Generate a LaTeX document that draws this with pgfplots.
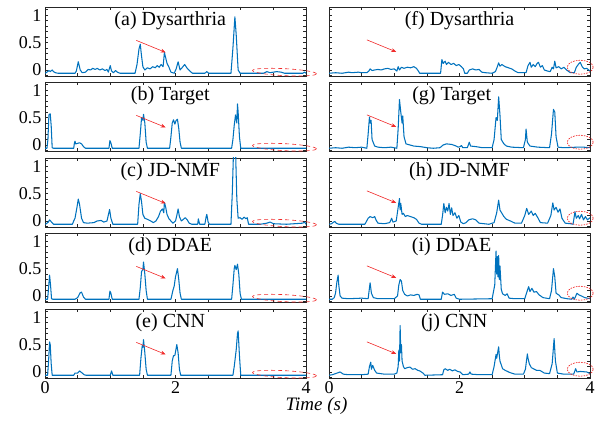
\documentclass[border=0pt]{standalone}
\usepackage{fontspec}
\setmainfont{Liberation Serif}
\usepackage{pgfplots}
\pgfplotsset{compat=1.18}
\usetikzlibrary{arrows.meta}
\definecolor{mblue}{RGB}{0,114,189}
\definecolor{axgray}{RGB}{38,38,38}
\definecolor{ared}{RGB}{240,40,40}
\pgfplotsset{panel/.style={
  at={#1}, anchor=north west, scale only axis, width=261pt, height=69pt,
  xmin=0, xmax=4, ymin=-0.11, ymax=1.15,
  axis line style={axgray, line width=0.8pt},
  tick style={axgray, line width=0.6pt},
  tick align=inside,
  xtick={0,2,4}, minor xtick={0.5,1,1.5,2.5,3,3.5},
  ytick={0,0.5,1}, minor ytick={-0.1,0.1,0.2,0.3,0.4,0.6,0.7,0.8,0.9,1.1},
  major tick length=3pt, minor tick length=3pt,
  xticklabels={}, yticklabels={},
  tick label style={font=\fontsize{18}{18}\selectfont},
  /pgf/number format/assume math mode=true,
  clip mode=individual,
},
leftcol/.style={yticklabels={0,0.5,1}},
bottomrow/.style={xticklabels={0,2,4}},
sig/.style={draw=mblue, line width=1.05pt, mark=none, line join=round},
}
\newcommand{\ttl}[2]{\node[font=\fontsize{20}{20}\selectfont, anchor=center] at (rel axis cs:#1,0.805) {#2};}
\newcommand{\larr}{\draw[ared, line width=0.6pt, -{Stealth[length=5pt,width=4pt]}] (axis cs:1.4,0.54) -- (axis cs:1.85,0.32);
  \draw[ared, line width=0.6pt, dash pattern=on 4pt off 3pt, rotate around={-3:(axis cs:3.67,-0.04)}] (axis cs:3.67,-0.04) ellipse [x radius=32pt, y radius=3.5pt];}
\newcommand{\rarr}{\draw[ared, line width=0.6pt, -{Stealth[length=5pt,width=4pt]}] (axis cs:0.58,0.55) -- (axis cs:1.03,0.33);
  \draw[ared, line width=0.7pt, dash pattern=on 1.5pt off 1.2pt] (axis cs:3.85,0.05) ellipse [x radius=13pt, y radius=7pt];}
\begin{document}
\begin{tikzpicture}
\useasboundingbox (0,0) rectangle (602pt,-422pt);
% (a)
\begin{axis}[panel={(45pt,-7pt)}, leftcol]
\addplot[sig] coordinates {(0,-0.06) (0.03,-0.04) (0.06,-0.01) (0.08,-0.03) (0.11,0.0) (0.13,-0.03) (0.16,-0.05) (0.2,-0.06) (0.46,-0.06) (0.48,-0.02) (0.51,0.15) (0.54,0.0) (0.57,-0.05) (0.62,-0.04) (0.66,0.01) (0.7,0.0) (0.73,0.03) (0.77,0.01) (0.8,0.03) (0.84,0.0) (0.88,0.02) (0.92,-0.01) (0.95,0.01) (0.97,-0.04) (1.0,0.08) (1.02,-0.02) (1.05,-0.05) (1.08,-0.01) (1.11,-0.04) (1.15,-0.06) (1.38,-0.06) (1.41,0.1) (1.44,0.38) (1.46,0.47) (1.48,0.25) (1.5,0.06) (1.53,0.0) (1.57,0.04) (1.61,0.02) (1.65,0.06) (1.69,0.04) (1.72,0.08) (1.75,0.05) (1.78,0.1) (1.81,0.06) (1.83,0.32) (1.85,0.22) (1.87,0.12) (1.9,0.05) (1.93,-0.04) (1.98,-0.06) (2.01,0.02) (2.04,0.15) (2.07,0.0) (2.1,0.04) (2.14,0.1) (2.18,0.03) (2.22,-0.02) (2.26,-0.06) (2.45,-0.06) (2.48,-0.03) (2.51,-0.06) (2.85,-0.06) (2.88,0.4) (2.91,0.97) (2.93,0.65) (2.96,0.0) (2.99,-0.06) (3.35,-0.06) (3.4,-0.03) (3.45,-0.05) (3.55,-0.03) (3.62,-0.04) (3.67,-0.06) (3.95,-0.06) (3.98,-0.04) (4,-0.06)};
\ttl{0.48}{(a) Dysarthria}
\larr
\end{axis}
% (b)
\begin{axis}[panel={(45pt,-82pt)}, leftcol]
\addplot[sig] coordinates {(0,-0.06) (0.03,-0.06) (0.045,0.1) (0.06,0.55) (0.08,0.57) (0.095,0.35) (0.11,-0.05) (0.13,-0.06) (0.44,-0.06) (0.45,0.03) (0.46,0.07) (0.47,0.02) (0.5,0.03) (0.53,0.04) (0.56,0.02) (0.59,-0.03) (0.62,-0.06) (0.98,-0.06) (0.995,0.08) (1.01,0.04) (1.03,-0.06) (1.44,-0.06) (1.46,0.2) (1.48,0.5) (1.5,0.45) (1.51,0.56) (1.53,0.4) (1.55,0.05) (1.57,-0.06) (1.91,-0.06) (1.93,0.15) (1.95,0.4) (1.97,0.46) (1.99,0.38) (2.01,0.45) (2.03,0.47) (2.05,0.3) (2.07,0.05) (2.09,-0.06) (2.86,-0.06) (2.88,0.1) (2.9,0.36) (2.92,0.55) (2.94,0.4) (2.95,0.75) (2.96,0.6) (2.98,0.15) (3.0,-0.06) (4,-0.06)};
\ttl{0.48}{(b) Target}
\larr
\end{axis}
% (c)
\begin{axis}[panel={(45pt,-158pt)}, leftcol]
\addplot[sig] coordinates {(0,-0.06) (0.02,-0.05) (0.05,-0.02) (0.07,0.02) (0.1,-0.02) (0.13,-0.06) (0.42,-0.06) (0.44,0.0) (0.46,0.05) (0.49,0.25) (0.51,0.4) (0.53,0.3) (0.56,0.05) (0.59,-0.03) (0.65,-0.04) (0.75,-0.03) (0.8,0.0) (0.86,0.01) (0.9,-0.02) (0.95,0.0) (0.99,0.21) (1.01,0.05) (1.04,-0.06) (1.42,-0.06) (1.44,0.3) (1.46,0.5) (1.48,0.35) (1.5,0.12) (1.53,0.05) (1.57,0.03) (1.62,0.0) (1.66,-0.03) (1.7,0.0) (1.74,0.08) (1.77,0.18) (1.8,0.22) (1.82,0.15) (1.83,0.34) (1.85,0.25) (1.87,0.12) (1.9,0.04) (1.93,0.0) (1.96,-0.04) (2.0,0.0) (2.02,0.1) (2.04,0.22) (2.06,0.08) (2.09,0.0) (2.12,0.03) (2.15,0.06) (2.18,0.02) (2.21,-0.04) (2.25,-0.06) (2.34,-0.06) (2.35,0.04) (2.37,-0.06) (2.45,-0.06) (2.47,0.08) (2.48,0.12) (2.5,-0.02) (2.52,-0.06) (2.85,-0.06) (2.87,0.5) (2.89,1.3) (2.92,1.3) (2.94,0.4) (2.96,0.05) (2.99,0.06) (3.02,0.03) (3.05,0.07) (3.08,0.04) (3.1,0.06) (3.12,-0.06) (3.3,-0.06) (3.4,-0.04) (3.45,-0.02) (3.5,-0.05) (3.7,-0.06) (3.95,-0.04) (3.98,-0.02) (4,-0.06)};
\ttl{0.48}{(c) JD-NMF}
\larr
\end{axis}
% (d)
\begin{axis}[panel={(45pt,-233pt)}, leftcol]
\addplot[sig] coordinates {(0,-0.06) (0.04,-0.06) (0.055,0.15) (0.07,0.38) (0.085,0.2) (0.1,-0.05) (0.12,-0.06) (0.46,-0.06) (0.5,-0.03) (0.54,0.06) (0.56,0.07) (0.59,-0.02) (0.62,-0.06) (0.98,-0.06) (0.995,0.09) (1.01,0.05) (1.03,-0.06) (1.44,-0.06) (1.46,0.15) (1.48,0.45) (1.5,0.48) (1.51,0.62) (1.53,0.4) (1.55,0.1) (1.57,-0.06) (1.93,-0.06) (1.96,0.1) (1.98,0.18) (2.0,0.35) (2.03,0.5) (2.05,0.3) (2.07,0.05) (2.09,-0.06) (2.86,-0.06) (2.88,0.2) (2.9,0.5) (2.91,0.56) (2.93,0.48) (2.95,0.58) (2.97,0.4) (2.99,0.05) (3.01,-0.06) (4,-0.06)};
\ttl{0.48}{(d) DDAE}
\larr
\end{axis}
% (e)
\begin{axis}[panel={(45pt,-309pt)}, leftcol, bottomrow]
\addplot[sig] coordinates {(0,-0.06) (0.04,-0.06) (0.055,0.2) (0.07,0.55) (0.08,0.5) (0.095,0.15) (0.11,-0.06) (0.44,-0.06) (0.46,-0.02) (0.5,-0.02) (0.53,0.02) (0.56,-0.01) (0.6,-0.05) (0.63,-0.06) (1.0,-0.06) (1.02,0.02) (1.04,-0.06) (1.45,-0.06) (1.47,0.25) (1.49,0.48) (1.5,0.45) (1.51,0.59) (1.53,0.35) (1.55,0.05) (1.57,-0.06) (1.93,-0.06) (1.95,0.2) (1.97,0.3) (1.99,0.3) (2.02,0.5) (2.04,0.35) (2.06,0.05) (2.08,-0.06) (2.88,-0.06) (2.9,0.1) (2.93,0.4) (2.95,0.7) (2.96,0.75) (2.98,0.3) (3.0,-0.06) (4,-0.06)};
\ttl{0.48}{(e) CNN}
\larr
\end{axis}
% (f)
\begin{axis}[panel={(329pt,-7pt)}]
\addplot[sig] coordinates {(0,-0.06) (0.1,-0.05) (0.2,-0.06) (0.3,-0.04) (0.35,-0.05) (0.45,-0.04) (0.5,-0.05) (0.58,-0.05) (0.61,-0.02) (0.63,0.02) (0.66,-0.01) (0.7,0.0) (0.75,0.01) (0.8,0.0) (0.85,0.02) (0.9,0.03) (0.95,0.01) (1.0,0.02) (1.04,-0.02) (1.06,0.06) (1.08,0.0) (1.11,0.05) (1.15,0.03) (1.2,0.05) (1.25,0.04) (1.3,0.06) (1.34,0.03) (1.37,-0.02) (1.39,-0.06) (1.71,-0.06) (1.73,0.19) (1.75,0.12) (1.78,0.16) (1.8,0.1) (1.83,0.14) (1.87,0.1) (1.91,0.12) (1.95,0.08) (1.99,0.1) (2.03,0.06) (2.06,0.02) (2.08,-0.06) (2.12,-0.06) (2.15,0.0) (2.2,0.02) (2.25,0.0) (2.3,0.01) (2.34,-0.04) (2.4,-0.05) (2.5,-0.06) (2.55,-0.03) (2.58,0.06) (2.6,0.13) (2.62,0.07) (2.65,0.1) (2.7,0.06) (2.75,0.04) (2.8,0.02) (2.85,-0.02) (2.9,-0.05) (3.02,-0.05) (3.05,0.08) (3.08,0.14) (3.1,0.05) (3.13,0.1) (3.16,0.06) (3.19,0.12) (3.21,0.14) (3.24,0.05) (3.27,0.08) (3.3,0.0) (3.35,-0.02) (3.39,-0.03) (3.42,0.05) (3.44,0.02) (3.46,0.16) (3.48,0.04) (3.52,0.06) (3.56,0.02) (3.6,0.05) (3.64,0.0) (3.7,-0.05) (3.76,-0.05) (3.79,0.05) (3.82,0.1) (3.85,0.14) (3.88,0.06) (3.91,0.02) (3.95,0.03) (4,-0.02)};
\ttl{0.50}{(f) Dysarthria}
\rarr
\end{axis}
% (g)
\begin{axis}[panel={(329pt,-82pt)}]
\addplot[sig] coordinates {(0,-0.06) (0.1,-0.05) (0.2,-0.06) (0.3,-0.04) (0.4,-0.05) (0.5,-0.04) (0.58,-0.06) (0.6,0.2) (0.62,0.51) (0.63,0.4) (0.645,0.45) (0.66,0.1) (0.7,-0.02) (0.75,-0.04) (0.85,-0.05) (0.95,-0.04) (1.04,-0.06) (1.06,0.3) (1.08,0.83) (1.1,0.6) (1.12,0.4) (1.13,0.53) (1.15,0.15) (1.18,0.02) (1.24,0.0) (1.3,-0.02) (1.4,-0.03) (1.5,-0.05) (1.6,-0.06) (1.7,-0.05) (1.75,0.0) (1.8,0.02) (1.88,0.01) (1.95,-0.02) (1.98,-0.04) (2.01,-0.03) (2.03,-0.01) (2.05,-0.05) (2.12,-0.05) (2.15,0.05) (2.17,-0.02) (2.25,-0.03) (2.35,-0.05) (2.5,-0.05) (2.53,0.1) (2.56,0.5) (2.58,0.45) (2.6,0.88) (2.62,0.55) (2.64,0.1) (2.68,0.02) (2.72,-0.02) (2.8,-0.04) (2.98,-0.05) (3.01,0.1) (3.02,0.29) (3.04,0.05) (3.08,-0.02) (3.2,-0.04) (3.38,-0.05) (3.41,0.2) (3.44,0.65) (3.46,0.6) (3.48,0.15) (3.51,-0.04) (3.6,-0.05) (3.8,-0.04) (3.9,-0.04) (4,-0.05)};
\ttl{0.47}{(g) Target}
\rarr
\end{axis}
% (h)
\begin{axis}[panel={(329pt,-158pt)}]
\addplot[sig] coordinates {(0,-0.06) (0.04,-0.05) (0.07,-0.02) (0.09,-0.01) (0.11,-0.04) (0.15,-0.06) (0.55,-0.06) (0.6,0.05) (0.63,0.08) (0.67,0.06) (0.7,0.08) (0.72,0.02) (0.75,-0.04) (0.85,-0.05) (0.93,-0.03) (0.96,0.05) (0.98,-0.02) (1.03,0.0) (1.06,0.25) (1.08,0.41) (1.09,0.2) (1.1,0.32) (1.12,0.12) (1.14,0.14) (1.17,0.08) (1.2,0.1) (1.25,0.08) (1.3,0.06) (1.34,0.03) (1.38,-0.04) (1.42,-0.06) (1.72,-0.06) (1.74,0.1) (1.76,0.32) (1.78,0.15) (1.8,0.25) (1.82,0.18) (1.84,0.32) (1.86,0.12) (1.88,0.24) (1.9,0.1) (1.93,0.15) (1.96,0.05) (1.99,0.1) (2.02,-0.02) (2.06,-0.05) (2.1,-0.03) (2.14,0.02) (2.2,0.04) (2.25,0.02) (2.3,-0.04) (2.45,-0.06) (2.53,-0.03) (2.57,0.15) (2.6,0.38) (2.62,0.2) (2.65,0.14) (2.68,0.08) (2.72,0.03) (2.78,0.0) (2.85,-0.04) (2.95,-0.04) (3.0,0.1) (3.03,0.23) (3.06,0.12) (3.1,0.18) (3.13,0.1) (3.16,0.14) (3.2,0.06) (3.24,-0.03) (3.35,-0.04) (3.4,0.1) (3.43,0.33) (3.45,0.2) (3.48,0.25) (3.51,0.16) (3.54,0.22) (3.57,0.05) (3.62,-0.04) (3.7,-0.05) (3.74,-0.06) (3.77,0.17) (3.79,0.05) (3.82,0.1) (3.84,0.04) (3.87,0.12) (3.9,0.02) (3.93,0.08) (3.96,0.02) (4,0.06)};
\ttl{0.50}{(h) JD-NMF}
\rarr
\end{axis}
% (i)
\begin{axis}[panel={(329pt,-233pt)}]
\addplot[sig] coordinates {(0,-0.06) (0.05,-0.06) (0.08,-0.03) (0.1,0.05) (0.12,0.25) (0.14,0.38) (0.15,0.2) (0.17,0.0) (0.2,-0.04) (0.3,-0.05) (0.5,-0.04) (0.6,-0.05) (0.615,0.1) (0.63,0.24) (0.65,0.05) (0.68,-0.03) (0.75,-0.05) (1.0,-0.05) (1.05,0.0) (1.07,0.2) (1.09,0.3) (1.11,0.27) (1.13,0.1) (1.16,0.03) (1.2,0.0) (1.25,0.02) (1.3,0.01) (1.35,0.03) (1.38,0.02) (1.4,-0.06) (1.72,-0.06) (1.74,0.07) (1.77,0.03) (1.82,0.04) (1.87,0.01) (1.92,0.03) (1.95,-0.04) (2.0,-0.06) (2.5,-0.05) (2.54,0.2) (2.56,0.82) (2.57,0.4) (2.58,0.72) (2.59,0.35) (2.6,0.74) (2.61,0.3) (2.62,0.55) (2.64,0.12) (2.66,0.04) (2.7,0.01) (2.73,0.04) (2.76,-0.04) (2.85,-0.05) (3.0,-0.05) (3.04,0.1) (3.06,0.17) (3.08,0.08) (3.11,0.14) (3.14,0.07) (3.18,0.08) (3.22,0.02) (3.28,-0.03) (3.38,-0.05) (3.41,0.1) (3.44,0.5) (3.46,0.35) (3.48,0.05) (3.52,0.02) (3.56,-0.03) (3.65,-0.05) (3.72,-0.06) (3.74,-0.02) (3.76,-0.06) (3.8,0.05) (3.83,0.02) (3.87,0.0) (3.92,-0.03) (4,-0.05)};
\ttl{0.47}{(i) DDAE}
\rarr
\end{axis}
% (j)
\begin{axis}[panel={(329pt,-309pt)}, bottomrow]
\addplot[sig] coordinates {(0,-0.06) (0.05,-0.05) (0.1,-0.03) (0.17,0.0) (0.22,-0.04) (0.3,-0.05) (0.5,-0.05) (0.6,-0.04) (0.62,0.1) (0.64,0.18) (0.65,0.05) (0.67,0.12) (0.7,0.03) (0.73,-0.02) (0.85,-0.04) (1.0,-0.04) (1.04,-0.02) (1.06,0.1) (1.07,0.4) (1.08,0.2) (1.09,0.85) (1.1,0.35) (1.11,0.5) (1.12,0.2) (1.14,0.1) (1.16,0.06) (1.2,0.08) (1.24,0.09) (1.28,0.05) (1.32,0.06) (1.36,0.03) (1.39,0.02) (1.44,-0.02) (1.47,-0.06) (1.74,-0.05) (1.76,0.04) (1.78,0.06) (1.82,0.03) (1.85,0.05) (1.89,0.02) (1.93,0.04) (1.97,0.01) (2.01,0.0) (2.05,-0.05) (2.14,-0.04) (2.16,0.0) (2.18,-0.04) (2.3,-0.05) (2.5,-0.05) (2.53,0.1) (2.56,0.32) (2.57,0.25) (2.6,0.46) (2.61,0.3) (2.62,0.2) (2.66,0.06) (2.7,0.03) (2.77,-0.01) (2.85,-0.04) (2.98,-0.04) (3.01,0.05) (3.04,0.33) (3.05,0.25) (3.07,0.15) (3.1,0.08) (3.13,0.06) (3.18,0.03) (3.23,0.03) (3.3,-0.02) (3.38,-0.03) (3.42,0.15) (3.45,0.61) (3.47,0.2) (3.5,-0.02) (3.6,-0.04) (3.75,-0.04) (3.78,0.06) (3.8,0.0) (3.85,0.01) (3.95,0.0) (4,-0.03)};
\ttl{0.48}{(j) CNN}
\rarr
\end{axis}
\node[font=\fontsize{19}{19}\selectfont\itshape] at (316.5pt,-406pt) {Time (s)};
\end{tikzpicture}
\end{document}
